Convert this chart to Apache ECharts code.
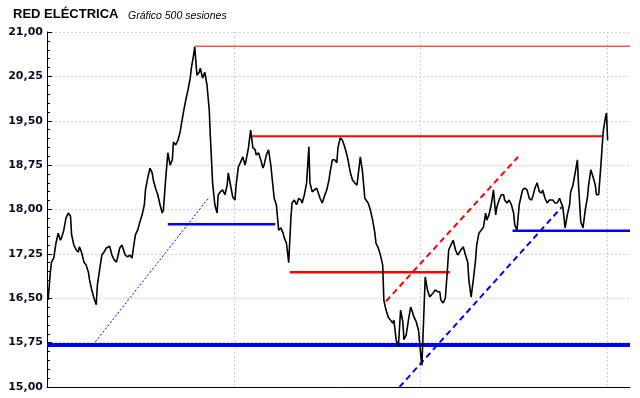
<!DOCTYPE html>
<html><head><meta charset="utf-8">
<script src="https://cdn.jsdelivr.net/npm/echarts@6/dist/echarts.min.js"></script>
<style>html,body{margin:0;padding:0;background:#fff}#c{width:640px;height:398px}</style>
</head><body><div id="c"></div>
<script>
const titleText = 'RED ELÉCTRICA';
const subtitleText = 'Gráfico 500 sesiones';
const yTicks = [15.00, 15.75, 16.50, 17.25, 18.00, 18.75, 19.50, 20.25, 21.00];
const xGridSessions = [0, 167, 334, 501];
const sessionMax = 521;

const sessions = [1,3,4,6,8,10,12,13,15,17,19,21,22,24,26,28,29,31,33,35,37,38,40,42,44,45,47,49,51,53,54,56,58,60,62,63,65,67,69,70,72,74,76,78,79,81,83,85,87,88,90,92,94,95,97,99,101,103,104,106,108,110,112,113,115,117,119,120,122,124,126,128,129,131,132,134,136,137,139,141,143,145,146,147,148,150,152,153,155,157,159,161,162,164,166,168,169,171,173,175,177,178,180,182,184,186,187,189,191,193,194,196,198,200,202,203,205,207,209,211,212,214,216,218,219,221,223,225,227,228,230,232,234,235,237,239,241,243,244,246,248,250,252,253,255,257,259,260,262,264,266,268,269,271,273,275,277,278,280,282,284,285,287,289,291,293,294,296,298,300,301,303,305,307,309,310,312,314,316,318,319,321,323,325,326,328,330,332,334,335,336,338,340,342,343,345,347,349,351,352,354,356,358,359,361,363,365,367,368,370,372,374,376,377,379,381,383,384,386,388,390,392,393,395,397,399,401,402,404,406,408,409,411,413,415,417,418,420,422,424,425,427,429,431,433,434,436,438,440,442,443,445,447,449,450,452,454,456,458,459,461,463,465,467,468,470,472,474,475,477,479,481,483,484,486,488,490,491,493,495,497,499,500,501];
const closes = [16.47,16.94,17.11,17.18,17.43,17.60,17.48,17.52,17.65,17.86,17.94,17.89,17.57,17.40,17.32,17.28,17.37,17.27,17.11,17.06,16.94,16.81,16.64,16.50,16.39,16.72,16.98,17.23,17.28,17.35,17.32,17.38,17.23,17.15,17.11,17.18,17.35,17.40,17.28,17.23,17.20,17.23,17.18,17.45,17.57,17.65,17.79,17.91,18.08,18.33,18.53,18.70,18.62,18.50,18.36,18.25,18.08,17.94,17.99,18.50,18.96,18.75,18.84,19.14,19.09,19.17,19.31,19.43,19.65,19.85,20.02,20.22,20.39,20.61,20.75,20.27,20.32,20.39,20.22,20.32,20.10,19.68,19.23,18.84,18.45,18.08,17.94,18.25,18.30,18.33,18.25,18.41,18.62,18.41,18.21,18.16,18.41,18.72,18.80,18.89,18.75,18.84,19.04,19.34,19.04,19.01,18.92,18.96,18.84,18.70,18.75,18.92,19.01,18.75,18.38,18.19,18.08,17.65,17.69,17.60,17.52,17.43,17.10,17.87,18.11,18.16,18.08,18.19,18.16,18.11,18.25,18.45,19.06,18.45,18.30,18.33,18.36,18.25,18.19,18.11,18.23,18.33,18.50,18.63,18.84,18.84,18.79,19.04,19.21,19.17,19.06,18.92,18.84,18.63,18.50,18.45,18.41,18.38,18.89,18.63,18.19,18.16,18.11,17.99,17.82,17.60,17.43,17.35,17.23,17.06,16.47,16.30,16.18,16.13,16.08,16.13,15.80,15.68,16.30,16.10,15.80,15.88,16.13,16.35,16.30,16.18,16.10,15.96,15.54,15.37,15.85,16.86,16.64,16.52,16.54,16.59,16.64,16.61,16.61,16.47,16.42,16.50,17.03,17.32,17.40,17.48,17.32,17.23,17.20,17.32,17.37,17.23,17.11,16.81,16.52,16.81,17.15,17.40,17.60,17.65,17.70,17.94,17.82,17.91,18.08,18.33,17.91,18.04,18.16,18.25,18.25,18.16,18.11,18.16,18.08,17.94,17.74,17.65,18.08,18.25,18.33,18.36,18.33,18.19,18.16,18.21,18.36,18.45,18.30,18.28,18.33,18.19,18.11,18.16,18.16,18.16,18.11,18.11,18.19,18.21,18.04,17.69,17.91,18.08,18.30,18.41,18.62,18.84,18.41,17.79,17.69,17.99,18.21,18.41,18.67,18.55,18.41,18.25,18.25,18.75,19.31,19.55,19.63,19.17];

const redLevelTop = [[132, 20.76], [521, 20.76]];
const redLevelMid = [[181, 19.24], [497, 19.24]];
const redLevelLow = [[217, 16.94], [360, 16.94]];
const blueLevelA = [[108, 17.75], [204, 17.75]];
const blueLevelB = [[416, 17.64], [521, 17.64]];
const blueSupport = [[0, 15.71], [521, 15.71]];
const blueTrendThin = [[41, 15.71], [145, 18.21]];
const redChannel = [[303, 16.45], [421, 18.89]];
const blueChannel = [[315, 15.00], [460, 18.04]];

const price = sessions.map((s, i) => [s, closes[i]]);

function seg(data, color, width, type, z) {
  return { type: 'line', data: data, symbol: 'none', silent: true, z: z || 2,
    lineStyle: { color: color, width: width, type: type || 'solid' } };
}

const chart = echarts.init(document.getElementById('c'), null, { renderer: 'canvas' });
chart.setOption({
  animation: false,
  backgroundColor: '#ffffff',
  title: [
    { text: titleText, left: 8, top: 3, textStyle: { fontFamily: 'Liberation Sans', fontWeight: 'bold', fontSize: 13, color: '#000000' } },
    { text: subtitleText, left: 123, top: 6, textStyle: { fontFamily: 'Liberation Sans', fontStyle: 'italic', fontWeight: 'normal', fontSize: 10.5, color: '#000000' } }
  ],
  grid: { left: 47, right: 10, top: 32, bottom: 11, containLabel: false },
  xAxis: {
    type: 'value', min: xGridSessions[0], max: sessionMax, interval: xGridSessions[1] - xGridSessions[0],
    axisLine: { show: true, lineStyle: { color: '#000000', width: 1 } },
    axisTick: { show: false }, axisLabel: { show: false },
    splitLine: { show: true, showMinLine: false, showMaxLine: false, lineStyle: { color: '#ccd0dc', type: [2, 2], width: 1 } }
  },
  yAxis: {
    type: 'value', min: yTicks[0], max: yTicks[yTicks.length - 1], interval: yTicks[1] - yTicks[0],
    axisLine: { show: true, lineStyle: { color: '#000000', width: 1 } },
    axisTick: { show: true, inside: true, length: 5, lineStyle: { color: '#000000' } },
    minorTick: { show: true, splitNumber: 5, length: 3, lineStyle: { color: '#000000' } },
    axisLabel: { margin: 4, fontFamily: 'DejaVu Sans', fontWeight: 'bold', fontSize: 11, color: '#0a0a28',
      formatter: v => v.toFixed(2).replace('.', ',') },
    splitLine: { show: true, lineStyle: { color: '#d8ccd8', type: [2, 2], width: 1 } }
  },
  series: [
    seg(blueSupport, '#0000ff', 4, 'solid', 2),
    seg(redLevelTop, '#ff0000', 1, 'solid', 2),
    seg(redLevelMid, '#ff0000', 2, 'solid', 2),
    seg(redLevelLow, '#ff0000', 2.5, 'solid', 2),
    seg(blueLevelA, '#0000ff', 2.5, 'solid', 2),
    seg(blueLevelB, '#0000ff', 2.5, 'solid', 2),
    seg(blueTrendThin, '#0000ff', 1, [2, 2], 2),
    seg(redChannel, '#ff0000', 2, [6, 4], 2),
    seg(blueChannel, '#0000ff', 2, [6, 4], 2),
    { type: 'line', data: price, symbol: 'none', silent: true, z: 3,
      lineStyle: { color: '#000000', width: 1.6 } }
  ]
});
</script>
</body></html>
